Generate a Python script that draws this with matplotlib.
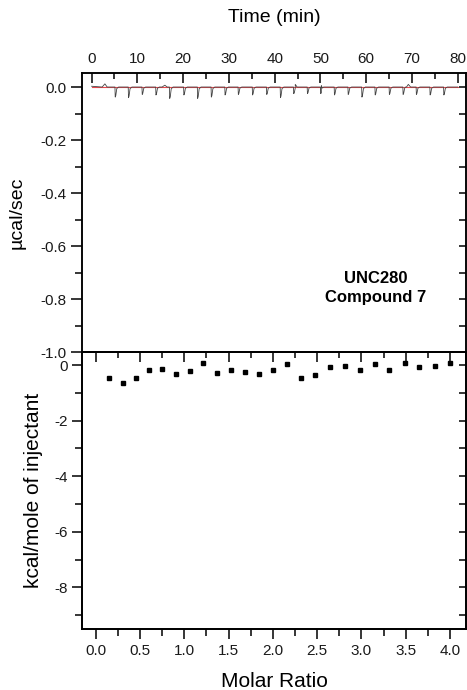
import numpy as np
import matplotlib
matplotlib.use("Agg")
import matplotlib.pyplot as plt
from matplotlib.ticker import MultipleLocator

plt.rcParams['font.family'] = ['Liberation Sans', 'DejaVu Sans']
plt.rcParams['axes.linewidth'] = 1.1

# Raw thermogram: injection times (min) and peak depths (ucal/sec)
inj_time = [5.1, 8.0, 11.0, 14.0, 17.0, 20.1, 23.1, 26.1, 29.1, 32.0, 35.1, 38.2,
            41.2, 44.1, 47.1, 50.0, 53.0, 56.0, 59.0, 61.9, 65.0, 68.0, 70.9, 73.9, 76.9]
inj_depth = [0.038, 0.040, 0.028, 0.030, 0.043, 0.030, 0.043, 0.038, 0.030, 0.028, 0.030, 0.028,
             0.040, 0.025, 0.025, 0.025, 0.030, 0.028, 0.038, 0.030, 0.028, 0.028, 0.028, 0.030, 0.030]
# small upward excursions of the baseline
blip_time = [2.9, 16.0, 44.5, 50.2, 69.2]
blip_height = [0.012, 0.007, 0.010, 0.006, 0.010]

# Integrated heats per injection
molar_ratio = [0.155, 0.305, 0.455, 0.605, 0.753, 0.906, 1.064, 1.214, 1.372, 1.524,
               1.682, 1.840, 1.998, 2.163, 2.321, 2.479, 2.645, 2.818, 2.984, 3.149,
               3.315, 3.488, 3.653, 3.827, 4.000]
heat = [-0.48, -0.66, -0.46, -0.18, -0.14, -0.32, -0.20, 0.08, -0.29, -0.17,
        -0.24, -0.31, -0.17, 0.04, -0.46, -0.34, -0.08, -0.04, -0.17, 0.05,
        -0.19, 0.06, -0.08, -0.04, 0.06]

# assemble the thermogram trace from narrow peak shapes
peak_dt = [-0.02, 0.0, 0.06, 0.18, 0.4, 0.8]
peak_frac = [0.0, 0.0, -1.0, -0.85, -0.15, 0.0]
blip_dt = [-0.6, 0.0, 0.5]
blip_frac = [0.0, 1.0, 0.0]
pts = [(0.0, 0.003), (80.0, 0.0)]
for t, d in zip(inj_time, inj_depth):
    pts += [(t + a, f * d) for a, f in zip(peak_dt, peak_frac)]
for t, h in zip(blip_time, blip_height):
    pts += [(t + a, f * h) for a, f in zip(blip_dt, blip_frac)]
pts.sort(key=lambda p: p[0])
trace_t = [p[0] for p in pts]
trace_y = [p[1] for p in pts]

fig = plt.figure(figsize=(4.67, 6.90), dpi=100)
W, H = 467, 690
left, right = 82 / W, 466 / W
ax1 = fig.add_axes([left, 1 - 352 / H, right - left, (352 - 73) / H])
ax2 = fig.add_axes([left, 1 - 629 / H, right - left, (629 - 352) / H])

tick_col = '#1a1a1a'

# ---- upper panel: raw heat rate ----
ax1.plot([0, 80], [0, 0], color='#e8474c', lw=0.8, zorder=2)
ax1.plot(trace_t, trace_y, color='#444444', lw=0.6, zorder=3)
ax1.set_xlim(-2.1, 81.8)
ax1.set_ylim(-1.0, 0.053)
ax1.xaxis.set_major_locator(MultipleLocator(10))
ax1.xaxis.set_minor_locator(MultipleLocator(5))
ax1.yaxis.set_major_locator(MultipleLocator(0.2))
ax1.yaxis.set_minor_locator(MultipleLocator(0.1))
ax1.yaxis.set_major_formatter(plt.FuncFormatter(lambda v, p: f'{v:.1f}'))
ax1.tick_params(axis='x', which='both', direction='in', top=True, bottom=False,
                labeltop=True, labelbottom=False, pad=5, labelsize=11, labelcolor=tick_col)
ax1.tick_params(axis='x', which='major', length=7, width=1.1)
ax1.tick_params(axis='x', which='minor', length=4, width=1.1)
ax1.tick_params(axis='y', which='both', direction='out', left=True, right=False,
                pad=3, labelsize=11, labelcolor=tick_col)
ax1.tick_params(axis='y', which='major', length=8, width=1.1)
ax1.tick_params(axis='y', which='minor', length=5, width=1.1)
ax1.xaxis.set_label_position('top')
ax1.set_xlabel('Time (min)', fontsize=14, labelpad=22)
ax1.set_ylabel('\u00b5cal/sec', fontsize=14, labelpad=11)
ax1.text(0.765, 0.23, 'UNC280\nCompound 7', transform=ax1.transAxes, ha='center',
         va='center', fontsize=12, fontweight='bold', linespacing=1.3)

r1 = ax1.twinx()
r1.set_ylim(ax1.get_ylim())
r1.yaxis.set_major_locator(MultipleLocator(0.2))
r1.yaxis.set_minor_locator(MultipleLocator(0.1))
r1.tick_params(axis='y', which='both', direction='in', length=5, width=1.1, labelright=False)

# ---- lower panel: integrated heats ----
ax2.plot(molar_ratio, heat, 's', color='black', ms=3.2, zorder=3)
ax2.set_xlim(-0.155, 4.18)
ax2.set_ylim(-9.5, 0.47)
ax2.xaxis.set_major_locator(MultipleLocator(0.5))
ax2.xaxis.set_minor_locator(MultipleLocator(0.25))
ax2.yaxis.set_major_locator(MultipleLocator(2))
ax2.yaxis.set_minor_locator(MultipleLocator(1))
ax2.xaxis.set_major_formatter(plt.FuncFormatter(lambda v, p: f'{v:.1f}'))
ax2.yaxis.set_major_formatter(plt.FuncFormatter(lambda v, p: f'{v:.0f}'))
ax2.tick_params(axis='both', which='both', direction='out', top=False, right=False,
                labelsize=11, labelcolor=tick_col)
ax2.tick_params(axis='both', which='major', length=7, width=1.1)
ax2.tick_params(axis='both', which='minor', length=5, width=1.1)
ax2.tick_params(axis='x', pad=4)
ax2.tick_params(axis='y', pad=3)
ax2.set_xlabel('Molar Ratio', fontsize=15, labelpad=10)
ax2.set_ylabel('kcal/mole of injectant', fontsize=15, labelpad=8)

r2 = ax2.twinx()
r2.set_ylim(ax2.get_ylim())
r2.yaxis.set_major_locator(MultipleLocator(1))
r2.tick_params(axis='y', which='both', direction='in', length=5, width=1.1, labelright=False)
t2 = ax2.twiny()
t2.set_xlim(ax2.get_xlim())
t2.xaxis.set_major_locator(MultipleLocator(0.5))
t2.xaxis.set_minor_locator(MultipleLocator(0.25))
t2.tick_params(axis='x', which='major', direction='in', length=7, width=1.1, labeltop=False)
t2.tick_params(axis='x', which='minor', direction='in', length=4, width=1.1)

fig.savefig('out.png', dpi=100)
